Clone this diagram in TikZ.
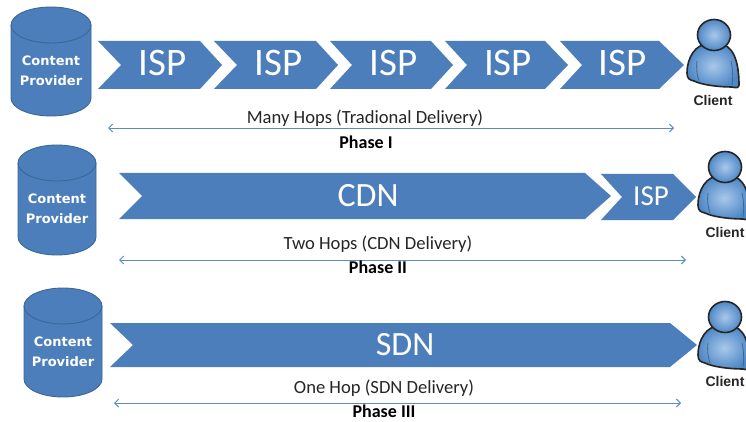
\documentclass[tikz,border=0pt]{standalone}
\usepackage{fontspec}
\setmainfont{Carlito}
\newfontfamily\arialf{Liberation Sans}
\newfontfamily\dejaf{DejaVu Sans}
\definecolor{bluefill}{HTML}{4C7EBB}
\definecolor{blueedge}{HTML}{3A6796}
\definecolor{arrowblue}{HTML}{5B8CC4}
\definecolor{headlight}{HTML}{A9C8EA}
\definecolor{headdark}{HTML}{4F88C6}
\usetikzlibrary{arrows.meta}
\tikzset{
  x=1pt,y=-1pt,
  chev/.style={fill=bluefill,draw=none},
  chevtext/.style={text=white,inner sep=0pt,anchor=center},
  cyl/.style={fill=bluefill,draw=blueedge,line width=0.9pt},
  cyltext/.style={text=white,font=\dejaf\bfseries\fontsize{13}{20}\selectfont,align=center,inner sep=0pt},
  captext/.style={text=black!85,inner sep=0pt,font=\fontsize{18.6}{18}\selectfont},
  phase/.style={text=black,inner sep=0pt,font=\bfseries\fontsize{18}{18}\selectfont},
  clienttext/.style={text=black!85,inner sep=0pt,font=\arialf\bfseries\fontsize{14}{14}\selectfont},
  span/.style={draw=arrowblue,line width=0.9pt,{Straight Barb[length=4pt,width=8pt]}-{Straight Barb[length=4pt,width=8pt]}},
  person/.pic={
    \shade[draw=black!85,line width=1.6pt,inner color=headlight,outer color=headdark]
      (-27,38) .. controls (-27,22) and (-18,9) .. (-6,9)
      -- (6,9) .. controls (18,10) and (25,24) .. (25,50)
      .. controls (25,53) and (22,53) .. (18,52)
      .. controls (5,52) and (-12,50) .. (-20,46)
      .. controls (-24,45) and (-27,44) .. (-27,38) -- cycle;
    \draw[blueedge,line width=0.8pt] (-17,26) .. controls (-18,34) and (-17,40) .. (-15,46);
    \draw[blueedge,line width=0.8pt] (17,26) .. controls (19,34) and (19,44) .. (18,50);
    \shade[draw=black!85,line width=1.6pt,inner color=headlight,outer color=headdark]
      (0,0) ellipse[x radius=16.5,y radius=15.5];
  }
}
\newcommand{\mychev}[7]{% name,left,notch,shoulder,tip,top,bottom
  \path[chev] (#2,#6) -- (#4,#6) -- (#5,{(#6+#7)/2}) -- (#4,#7) -- (#2,#7) -- (#3,{(#6+#7)/2}) -- cycle;
  \coordinate (#1) at ({(#3+#4)/2},{(#6+#7)/2});
}
\newcommand{\mycyl}[5]{% name,left,right,top,bottom
  \path[cyl] (#2,#4+18) -- (#2,#5-18) arc[start angle=180,end angle=0,x radius={(#3-#2)/2},y radius=18]
    -- (#3,#4+18) arc[start angle=0,end angle=-180,x radius={(#3-#2)/2},y radius=18] -- cycle;
  \draw[cyl,fill=none] (#2,#4+18) arc[start angle=180,end angle=0,x radius={(#3-#2)/2},y radius=18];
  \node[cyltext] (#1) at ({(#2+#3)/2},#4+64) {Content\\Provider};
}
\begin{document}
\begin{tikzpicture}
\useasboundingbox (0,0) rectangle (746,422);
\fill[white] (0,0) rectangle (746,422);
% Row 1
\mycyl{cp1}{11}{91}{7}{116}
\mychev{a1}{98}{121}{200}{222}{41}{89}
\mychev{a2}{214}{237}{316}{338}{41}{89}
\mychev{a3}{330}{352}{431}{453}{41}{89}
\mychev{a4}{445}{467}{545}{568}{41}{89}
\mychev{a5}{560}{582}{659}{684}{41}{89}
\foreach \n in {a1,a2,a3,a4,a5}
  \node[chevtext,font=\fontsize{39}{39}\selectfont,xshift=2pt,yshift=2pt] (t\n) at (\n) {ISP};
\coordinate (s1) at (108,128); \coordinate (e1) at (674,128);
\draw[span] (s1) -- (e1);
\node[captext] (c1) at (365,118) {Many Hops (Tradional Delivery)};
\node[phase] (p1) at (366,142) {Phase I};
\pic (u1) at (714,35) {person};
\node[clienttext] (k1) at (713,100) {Client};
% Row 2
\mycyl{cp2}{18}{96}{145}{255}
\mychev{b1}{119}{142}{585}{611}{173}{219}
\mychev{b2}{601}{622}{673}{696}{174}{220}
\node[chevtext,font=\fontsize{34}{34}\selectfont] (tb1) at (368,196) {CDN};
\node[chevtext,font=\fontsize{29}{29}\selectfont] (tb2) at (651,196) {ISP};
\coordinate (s2) at (119,260); \coordinate (e2) at (686,260);
\draw[span] (s2) -- (e2);
\node[captext] (c2) at (378,244) {Two Hops (CDN Delivery)};
\node[phase] (p2) at (378,267) {Phase II};
\pic (u2) at (725,167) {person};
\node[clienttext] (k2) at (725,232) {Client};
% Row 3
\mycyl{cp3}{24}{102}{288}{397}
\mychev{c1x}{110}{133}{670}{697}{323}{367}
\node[chevtext,font=\fontsize{34}{34}\selectfont] (tc1) at (405,345) {SDN};
\coordinate (s3) at (114,403); \coordinate (e3) at (681,403);
\draw[span] (s3) -- (e3);
\node[captext] (c3) at (384,388) {One Hop (SDN Delivery)};
\node[phase] (p3) at (384,411) {Phase III};
\pic (u3) at (725,317) {person};
\node[clienttext] (k3) at (725,381) {Client};
\end{tikzpicture}
\end{document}
